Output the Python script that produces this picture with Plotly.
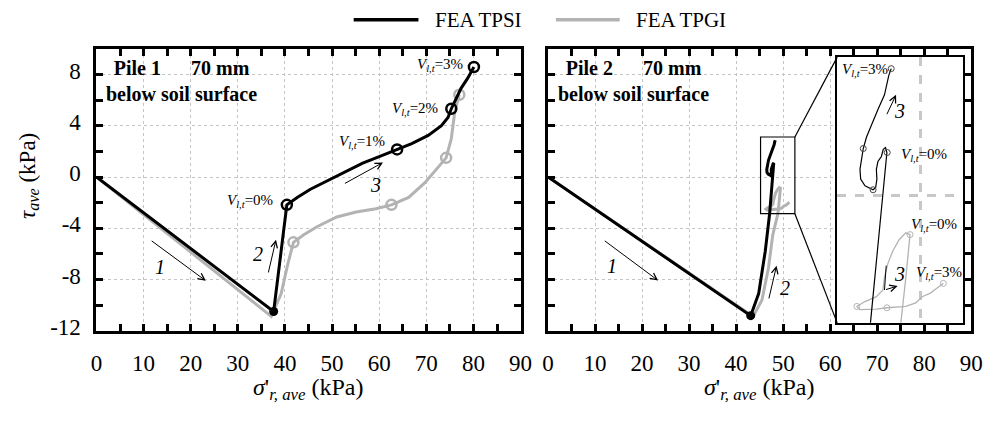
import plotly.graph_objects as go

FONT = "Liberation Serif"
BLACK = "black"
GRAY = "#b3b3b3"
W, H = 1001, 421          # browser window
PAGE_MARGIN = 8           # default body margin of the html page
FW, FH = W - 2 * PAGE_MARGIN, H - 2 * PAGE_MARGIN

# ---------------- axes / ticks ----------------
X_RANGE = [0, 90]
Y_RANGE = [-12, 10]
X_TICKS = [0, 10, 20, 30, 40, 50, 60, 70, 80, 90]
X_MINOR = [5, 15, 25, 35, 45, 55, 65, 75, 85]
Y_TICKS = [-12, -8, -4, 0, 4, 8]
Y_TICKTEXT = ["-12", "-8", "-4", "0", "4", "8"]
Y_MINOR = [-10, -6, -2, 2, 6, 10]

# ---------------- Pile 1 ----------------
P1_TPSI_X = [0, 37.6, 40.4, 42.6, 45.4, 48.9, 52.4, 56.5, 60.0, 63.8, 66.9, 70.4, 73.2, 74.6, 75.3, 77.4, 78.75, 80.1]
P1_TPSI_Y = [0, -10.5, -2.17, -1.59, -0.95, -0.31, 0.32, 1.09, 1.6, 2.16, 2.62, 3.25, 4.02, 4.65, 5.34, 6.95, 7.71, 8.6]
P1_TPSI_MARK_X = [40.4, 63.8, 75.3, 80.1]
P1_TPSI_MARK_Y = [-2.17, 2.16, 5.34, 8.6]
P1_MIN_X = [37.6]
P1_MIN_Y = [-10.5]

P1_TPGI_X = [0, 37.1, 39.2, 40.6, 41.8, 44.0, 46.8, 51.0, 55.1, 59.3, 62.6, 66.25, 69.7, 72.1, 74.2, 75.3, 75.7, 76.0, 76.6, 77.0]
P1_TPGI_Y = [0, -10.88, -9.1, -6.8, -5.1, -4.51, -3.88, -3.12, -2.73, -2.47, -2.17, -1.59, -0.44, 0.58, 1.5, 3.0, 4.3, 5.0, 5.9, 6.43]
P1_TPGI_MARK_X = [41.8, 62.6, 74.2, 77.0]
P1_TPGI_MARK_Y = [-5.1, -2.17, 1.5, 6.43]

P1_LABEL_TEXT = ["0%", "1%", "2%", "3%"]
P1_LABEL_X = [37.8, 61.7, 72.9, 78.3]
P1_LABEL_Y = [-1.84, 2.74, 5.34, 8.78]

P1_ARROW_TEXT = ["1", "2", "3"]
P1_ARROW_TAIL_X = [11.4, 36.4, 52.4]
P1_ARROW_TAIL_Y = [-4.9, -7.57, -0.56]
P1_ARROW_HEAD_X = [23.2, 38.1, 60.8]
P1_ARROW_HEAD_Y = [-8.1, -4.9, 1.14]
P1_ARROW_LBL_X = [13.5, 34.2, 59.3]
P1_ARROW_LBL_Y = [-7.0, -6.0, -0.6]

# ---------------- Pile 2 ----------------
P2_TPSI_X = [0, 43.1, 44.8, 46.2, 47.13, 48.08, 48.0, 47.87, 47.76, 47.56, 47.47, 47.5, 47.43, 47.28, 46.81,
             46.56, 46.52, 46.62, 46.71, 46.9, 47.19, 47.56, 47.94, 48.1, 48.19, 48.33]
P2_TPSI_Y = [0, -10.83, -9.1, -5.79, -2.85, 0.98, 1.09, 1.05, 0.89, 0.78, 0.60, 0.38, 0.19, 0.14, 0.23,
             0.38, 0.6, 0.82, 1.07, 1.33, 1.62, 1.95, 2.28, 2.54, 2.72, 2.87]
P2_TPGI_X = [0, 43.6, 45.5, 46.9, 47.8, 48.89, 49.18, 49.42, 49.18, 48.8, 48.42, 48.13, 47.94, 47.85, 47.47,
             46.81, 46.34, 46.52, 47.47, 48.08, 49.18, 49.75, 50.12, 50.6, 50.97, 51.35]
P2_TPGI_Y = [0, -10.9, -9.6, -7.06, -4.51, -2.85, -1.83, -0.87, -0.83, -0.98, -1.24, -1.53, -1.83, -2.12, -2.27,
             -2.38, -2.49, -2.56, -2.55, -2.52, -2.49, -2.41, -2.27, -2.19, -2.08, -1.97]
P2_MIN_X = [43.1]
P2_MIN_Y = [-10.83]
P2_TPSI_MARK_X = [48.1, 47.28, 46.71, 48.33]
P2_TPSI_MARK_Y = [0.98, 0.14, 1.07, 2.87]
P2_TPGI_MARK_X = [49.42, 46.34, 48.08, 51.35]
P2_TPGI_MARK_Y = [-0.87, -2.49, -2.52, -1.97]

P2_ARROW_TEXT = ["1", "2"]
P2_ARROW_TAIL_X = [11.75, 46.9]
P2_ARROW_TAIL_Y = [-4.9, -9.6]
P2_ARROW_HEAD_X = [23.4, 48.6]
P2_ARROW_HEAD_Y = [-8.08, -6.93]
P2_ARROW_LBL_X = [13.6, 50.4]
P2_ARROW_LBL_Y = [-6.93, -8.7]

# zoom window (Pile 2 data units) and inset placement (Pile 2 axis units)
ZOOM_X = [45.2, 52.5]
ZOOM_Y = [-2.86, 3.13]
INSET_X = [61.5, 88.3]
INSET_Y = [-11.39, 9.37]
INSET_GRID_X = [50]
INSET_GRID_Y = [0]

INSET_LABEL_TEXT = ["3%", "0%", "0%", "3%"]
INSET_LABEL_X = [45.35, 48.76, 49.38, 49.67]
INSET_LABEL_Y = [2.83, 0.93, -0.65, -1.74]
INSET_NUM_X = [48.8, 48.8]
INSET_NUM_Y = [1.92, -1.75]
INSET_ARROW1_X = [48.04, 48.61]
INSET_ARROW1_Y = [1.81, 2.28]
INSET_ARROW2_X = [48.04, 47.94, 48.7]
INSET_ARROW2_Y = [-1.57, -2.12, -2.03]


# ---------------- layout geometry (screen pixels -> paper) ----------------
def SX(px):
    return (px - PAGE_MARGIN) / FW


def SY(py):
    return 1 - (py - PAGE_MARGIN) / FH


LEFT_DOM_X = [SX(92), SX(524)]
RIGHT_DOM_X = [SX(552), SX(983)]
DOM_Y = [SY(338), SY(50)]


def to_dom(v, rng, dom):
    return dom[0] + (v - rng[0]) / (rng[1] - rng[0]) * (dom[1] - dom[0])


INSET_DOM_X = [to_dom(v, X_RANGE, RIGHT_DOM_X) for v in INSET_X]
INSET_DOM_Y = [to_dom(v, Y_RANGE, DOM_Y) for v in INSET_Y]

fig = go.Figure()


def line_trace(x, y, color, name, xa, ya, width=3):
    return go.Scatter(x=x, y=y, mode="lines", name=name, line=dict(color=color, width=width),
                      xaxis=xa, yaxis=ya, showlegend=False, hoverinfo="skip")


def mark_trace(x, y, color, xa, ya, size=10, lw=2.5, symbol="circle-open"):
    return go.Scatter(x=x, y=y, mode="markers", showlegend=False, hoverinfo="skip",
                      marker=dict(symbol=symbol, size=size, color=color, line=dict(color=color, width=lw)),
                      xaxis=xa, yaxis=ya)


# Pile 1
fig.add_trace(line_trace(P1_TPGI_X, P1_TPGI_Y, GRAY, "FEA TPGI", "x", "y"))
fig.add_trace(mark_trace(P1_TPGI_MARK_X, P1_TPGI_MARK_Y, GRAY, "x", "y"))
fig.add_trace(line_trace(P1_TPSI_X, P1_TPSI_Y, BLACK, "FEA TPSI", "x", "y"))
fig.add_trace(mark_trace(P1_TPSI_MARK_X, P1_TPSI_MARK_Y, BLACK, "x", "y"))
fig.add_trace(mark_trace(P1_MIN_X, P1_MIN_Y, BLACK, "x", "y", size=9, lw=0, symbol="circle"))

# Pile 2
fig.add_trace(line_trace(P2_TPGI_X, P2_TPGI_Y, GRAY, "FEA TPGI", "x2", "y2"))
fig.add_trace(line_trace(P2_TPSI_X, P2_TPSI_Y, BLACK, "FEA TPSI", "x2", "y2"))
fig.add_trace(mark_trace(P2_MIN_X, P2_MIN_Y, BLACK, "x2", "y2", size=9, lw=0, symbol="circle"))

# Inset (magnified view of the zoom window)
fig.add_trace(line_trace(P2_TPGI_X, P2_TPGI_Y, GRAY, "FEA TPGI", "x3", "y3", width=1.3))
fig.add_trace(mark_trace(P2_TPGI_MARK_X, P2_TPGI_MARK_Y, GRAY, "x3", "y3", size=6, lw=1))
fig.add_trace(line_trace(P2_TPSI_X, P2_TPSI_Y, BLACK, "FEA TPSI", "x3", "y3", width=1.2))
fig.add_trace(mark_trace(P2_TPSI_MARK_X, P2_TPSI_MARK_Y, "#444444", "x3", "y3", size=6, lw=1))

tickfont = dict(family=FONT, size=23, color=BLACK)


def main_xaxis(domain, anchor):
    return dict(domain=domain, anchor=anchor, range=X_RANGE, tickmode="array", tickvals=X_TICKS,
                showline=True, linecolor=BLACK, linewidth=3, mirror="ticks",
                ticks="inside", ticklen=7, tickwidth=2.5, tickcolor=BLACK, ticklabelstandoff=10,
                minor=dict(tickmode="array", tickvals=X_MINOR, ticks="inside", ticklen=7, tickwidth=2.5,
                           tickcolor=BLACK, showgrid=False),
                showgrid=True, gridcolor="#c4c4c4", griddash="dot", gridwidth=1,
                zeroline=False, tickfont=tickfont, fixedrange=True)


def main_yaxis(anchor, labels):
    return dict(domain=DOM_Y, anchor=anchor, range=Y_RANGE, tickmode="array", tickvals=Y_TICKS,
                ticktext=Y_TICKTEXT, showticklabels=labels,
                showline=True, linecolor=BLACK, linewidth=3, mirror="ticks",
                ticks="inside", ticklen=7, tickwidth=2.5, tickcolor=BLACK,
                ticklabelstandoff=8, ticklabelshift=-4,
                minor=dict(tickmode="array", tickvals=Y_MINOR, ticks="inside", ticklen=7, tickwidth=2.5,
                           tickcolor=BLACK, showgrid=False),
                showgrid=True, gridcolor="#c4c4c4", griddash="dot", gridwidth=1,
                zeroline=False, tickfont=tickfont, fixedrange=True)


fig.update_layout(
    width=FW, height=FH, margin=dict(l=0, r=0, t=0, b=0),
    paper_bgcolor="white", plot_bgcolor="white",
    font=dict(family=FONT, color=BLACK),
    showlegend=False,
    xaxis=main_xaxis(LEFT_DOM_X, "y"),
    yaxis=main_yaxis("x", True),
    xaxis2=main_xaxis(RIGHT_DOM_X, "y2"),
    yaxis2=main_yaxis("x2", False),
    xaxis3=dict(domain=INSET_DOM_X, anchor="y3", range=ZOOM_X, showline=True, mirror=True,
                linecolor=BLACK, linewidth=1.5, ticks="", showticklabels=False,
                tickmode="array", tickvals=INSET_GRID_X, showgrid=True, gridcolor="#c8c8c8",
                griddash="dash", gridwidth=3, zeroline=False, fixedrange=True),
    yaxis3=dict(domain=INSET_DOM_Y, anchor="x3", range=ZOOM_Y, showline=True, mirror=True,
                linecolor=BLACK, linewidth=1.5, ticks="", showticklabels=False,
                tickmode="array", tickvals=INSET_GRID_Y, showgrid=True, gridcolor="#c8c8c8",
                griddash="dash", gridwidth=3, zeroline=False, fixedrange=True),
)

# zoom box and connector lines
fig.add_shape(type="rect", xref="x2", yref="y2", x0=ZOOM_X[0], x1=ZOOM_X[1], y0=ZOOM_Y[0], y1=ZOOM_Y[1],
              line=dict(color=BLACK, width=1.2))
fig.add_shape(type="line", xref="x2", yref="y2", x0=ZOOM_X[1], y0=ZOOM_Y[1], x1=INSET_X[0], y1=INSET_Y[1],
              line=dict(color=BLACK, width=1.2))
fig.add_shape(type="line", xref="x2", yref="y2", x0=ZOOM_X[1], y0=ZOOM_Y[0], x1=INSET_X[0], y1=INSET_Y[0],
              line=dict(color=BLACK, width=1.2))

ann = []


def vlabel(pct):
    return "<i>V</i><sub><i>l,t</i></sub>=" + pct


def arrow(hx, hy, tx, ty, xr, yr):
    return dict(x=hx, y=hy, ax=tx, ay=ty, xref=xr, yref=yr, axref=xr, ayref=yr, text="",
                showarrow=True, arrowhead=5, arrowsize=1.3, arrowwidth=1, arrowcolor=BLACK)


for t, x, y in zip(P1_LABEL_TEXT, P1_LABEL_X, P1_LABEL_Y):
    ann.append(dict(x=x, y=y, xref="x", yref="y", text=vlabel(t), showarrow=False, xanchor="right",
                    yanchor="middle", font=dict(size=15)))

for t, tx, ty, hx, hy, lx, ly in zip(P1_ARROW_TEXT, P1_ARROW_TAIL_X, P1_ARROW_TAIL_Y, P1_ARROW_HEAD_X,
                                     P1_ARROW_HEAD_Y, P1_ARROW_LBL_X, P1_ARROW_LBL_Y):
    ann.append(arrow(hx, hy, tx, ty, "x", "y"))
    ann.append(dict(x=lx, y=ly, xref="x", yref="y", text="<i>" + t + "</i>", showarrow=False,
                    font=dict(size=20)))

for t, tx, ty, hx, hy, lx, ly in zip(P2_ARROW_TEXT, P2_ARROW_TAIL_X, P2_ARROW_TAIL_Y, P2_ARROW_HEAD_X,
                                     P2_ARROW_HEAD_Y, P2_ARROW_LBL_X, P2_ARROW_LBL_Y):
    ann.append(arrow(hx, hy, tx, ty, "x2", "y2"))
    ann.append(dict(x=lx, y=ly, xref="x2", yref="y2", text="<i>" + t + "</i>", showarrow=False,
                    font=dict(size=20)))

for t, x, y in zip(INSET_LABEL_TEXT, INSET_LABEL_X, INSET_LABEL_Y):
    ann.append(dict(x=x, y=y, xref="x3", yref="y3", text=vlabel(t), showarrow=False, xanchor="left",
                    yanchor="middle", font=dict(size=15)))
for x, y in zip(INSET_NUM_X, INSET_NUM_Y):
    ann.append(dict(x=x, y=y, xref="x3", yref="y3", text="<i>3</i>", showarrow=False, font=dict(size=20)))

ann.append(arrow(INSET_ARROW1_X[1], INSET_ARROW1_Y[1], INSET_ARROW1_X[0], INSET_ARROW1_Y[0], "x3", "y3"))
fig.add_shape(type="line", xref="x3", yref="y3", x0=INSET_ARROW2_X[0], y0=INSET_ARROW2_Y[0],
              x1=INSET_ARROW2_X[1], y1=INSET_ARROW2_Y[1], line=dict(color=BLACK, width=1))
ann.append(arrow(INSET_ARROW2_X[2], INSET_ARROW2_Y[2], INSET_ARROW2_X[1], INSET_ARROW2_Y[1], "x3", "y3"))

# panel captions
PANEL_TEXT = ["Pile 1", "Pile 2"]
for name, xr, yr in zip(PANEL_TEXT, ["x", "x2"], ["y", "y2"]):
    ann.append(dict(x=18.1, y=7.48, xref=xr, yref=yr, showarrow=False, align="center",
                    text="<b>" + name + "\u00a0\u00a0\u00a0\u00a0\u00a0 70 mm<br>below soil surface</b>",
                    font=dict(size=20)))

# axis titles
xt = "<i>σ</i>'<sub><i>r, ave</i></sub> (kPa)"
for dom in (LEFT_DOM_X, RIGHT_DOM_X):
    ann.append(dict(x=(dom[0] + dom[1]) / 2, y=SY(398), xref="paper", yref="paper", text=xt,
                    showarrow=False, xanchor="center", yanchor="middle", borderpad=0, font=dict(size=24)))
ann.append(dict(x=SX(23), y=SY(180), xref="paper", yref="paper", text="<i>τ</i><sub><i>ave</i></sub> (kPa)",
                showarrow=False, textangle=-90, xanchor="center", yanchor="middle", borderpad=0,
                font=dict(size=23)))

# legend (drawn manually for the long line samples)
LEGEND_NAMES = ["FEA TPSI", "FEA TPGI"]
LEGEND_COLORS = [BLACK, GRAY]
LEGEND_LINE_X0 = [354, 560]
LEGEND_LINE_X1 = [420, 625]
LEGEND_TEXT_X = [436, 641]
LEGEND_Y = 20
for n, c, a, b, tx in zip(LEGEND_NAMES, LEGEND_COLORS, LEGEND_LINE_X0, LEGEND_LINE_X1, LEGEND_TEXT_X):
    fig.add_shape(type="line", xref="paper", yref="paper", x0=SX(a), x1=SX(b), y0=SY(LEGEND_Y),
                  y1=SY(LEGEND_Y), line=dict(color=c, width=3.5))
    ann.append(dict(x=SX(tx), y=SY(LEGEND_Y), xref="paper", yref="paper", text=n, showarrow=False,
                    xanchor="left", yanchor="middle", borderpad=0, font=dict(size=21)))

fig.update_layout(annotations=ann)
fig.write_html("out.html")
